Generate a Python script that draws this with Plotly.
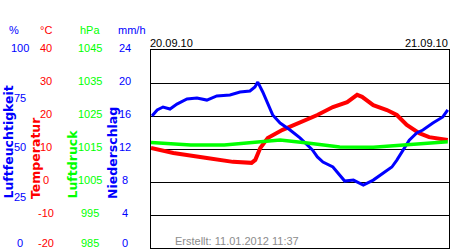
import plotly.graph_objects as go

# --- data (hours since 20.09.10 00:00) ---
hum_h = [0.08, 0.5, 0.97, 1.53, 2.09, 2.9, 3.7, 4.5, 5.3, 6.36, 7.17, 7.97, 8.37, 8.6,
         9.0, 9.4, 9.8, 10.4, 11.2, 12.0, 13.0, 13.4, 13.85, 14.65, 15.2, 15.6, 16.3,
         17.1, 17.9, 18.7, 19.4, 19.8, 20.3, 20.8, 21.4, 21.9, 22.7, 23.5, 23.9]
hum_v = [66.7, 69.7, 71.2, 70.2, 72.7, 75.3, 75.8, 74.7, 76.8, 77.3, 78.8, 79.3, 81.3, 83.8,
         78.8, 73.2, 67.2, 63.1, 59.6, 55.6, 49.5, 46.0, 43.4, 40.9, 36.9, 33.8, 34.3,
         31.8, 34.3, 37.9, 40.9, 44.4, 49.5, 54.5, 58.1, 59.6, 63.1, 66.2, 69.7]

temp_h = [0.0, 1.8, 4.5, 6.6, 8.1, 8.4, 8.8, 9.4, 10.6, 12.0, 13.4, 14.65, 15.8, 16.6,
          17.0, 17.9, 19.0, 19.8, 20.6, 21.6, 22.4, 23.9]
temp_v = [10.3, 8.8, 7.3, 6.1, 5.8, 6.7, 10.3, 13.3, 15.8, 17.9, 20.3, 22.7, 24.2, 26.4,
          25.8, 23.3, 21.8, 20.3, 17.3, 14.8, 13.6, 12.7]

pres_h = [0.0, 3.2, 5.9, 8.0, 10.4, 12.6, 15.2, 17.9, 20.6, 23.9]
pres_v = [1017.0, 1016.2, 1016.2, 1016.8, 1017.7, 1016.8, 1015.6, 1015.5, 1016.2, 1017.2]

hum_ticks = [0, 25, 50, 75, 100]
temp_ticks = [-20, -10, 0, 10, 20, 30, 40]
pres_ticks = [985, 995, 1005, 1015, 1025, 1035, 1045]
rain_ticks = [0, 4, 8, 12, 16, 20, 24]

headers = ["%", "°C", "hPa", "mm/h"]
titles = ["Luftfeuchtigkeit", "Temperatur", "Luftdruck", "Niederschlag"]
dates = ["20.09.10", "21.09.10"]
created = "Erstellt: 11.01.2012 11:37"

BLUE = "#0000ff"
RED = "#ff0000"
GREEN = "#00ff00"
W, H = 450, 250
TOP, BOT = 50, 248          # plot area pixel rows
FONT = "Liberation Sans, Arial, sans-serif"


def px_x(px):   # pixel column -> paper x (plot area spans 0..449)
    return px / 449.0


def px_y(py):   # pixel row -> paper y
    return (BOT - py) / float(BOT - TOP)


fig = go.Figure()
fig.add_trace(go.Scatter(x=pres_h, y=pres_v, yaxis="y3", mode="lines",
                         line=dict(color=GREEN, width=3.5), hoverinfo="skip"))
fig.add_trace(go.Scatter(x=temp_h, y=temp_v, yaxis="y", mode="lines",
                         line=dict(color=RED, width=4), hoverinfo="skip"))
fig.add_trace(go.Scatter(x=hum_h, y=hum_v, yaxis="y2", mode="lines",
                         line=dict(color=BLUE, width=3), hoverinfo="skip"))

x0 = 151 / 449.0
fig.update_layout(
    width=W, height=H,
    margin=dict(l=0, r=1, t=TOP, b=H - BOT),
    paper_bgcolor="white", plot_bgcolor="white",
    showlegend=False,
    font=dict(family=FONT, size=11),
    xaxis=dict(domain=[x0, 1], range=[0, 24], showgrid=False, zeroline=False,
               showticklabels=False, ticks="", showline=True, mirror=True,
               linecolor="black", linewidth=1),
    yaxis=dict(range=[-20, 40], tickvals=temp_ticks, showgrid=True, gridcolor="black",
               gridwidth=1, zeroline=False, showticklabels=False, ticks="",
               showline=True, mirror=True, linecolor="black", linewidth=1),
    yaxis2=dict(range=[0, 100], overlaying="y", visible=False),
    yaxis3=dict(range=[985, 1045], overlaying="y", visible=False),
    yaxis4=dict(range=[0, 24], overlaying="y", visible=False),
)

ann = []
# tick label columns
cols = [(hum_ticks, "y2", 20, BLUE),
        (temp_ticks, "y", 46, RED),
        (pres_ticks, "y3", 90, GREEN),
        (rain_ticks, "y4", 125, BLUE)]
for ticks, yref, xc, col in cols:
    for t in ticks:
        ann.append(dict(x=px_x(xc), xref="paper", y=t, yref=yref, text=str(t),
                        showarrow=False, xanchor="center", yanchor="middle",
                        yshift=5 if t == ticks[0] else 2,
                        font=dict(color=col, size=11, family=FONT)))
# headers
for txt, xc, col in zip(headers, [14, 46, 90, 132], [BLUE, RED, GREEN, BLUE]):
    ann.append(dict(x=px_x(xc), xref="paper", y=px_y(30), yref="paper", text=txt,
                    showarrow=False, xanchor="center", yanchor="middle",
                    font=dict(color=col, size=11, family=FONT)))
# rotated titles
for txt, xc, col in zip(titles, [8, 35, 72, 112], [BLUE, RED, GREEN, BLUE]):
    ann.append(dict(x=px_x(xc), xref="paper", y=px_y(201), yref="paper", text=txt,
                    showarrow=False, textangle=-90, xanchor="center", yanchor="bottom",
                    font=dict(color=col, size=12.5, family="DejaVu Sans", weight="bold")))
# dates
ann.append(dict(x=0, xref="x", y=px_y(43.5), yref="paper", text=dates[0],
                showarrow=False, xanchor="left", yanchor="middle", xshift=-3,
                font=dict(color="black", size=11, family=FONT)))
ann.append(dict(x=24, xref="x", y=px_y(43.5), yref="paper", text=dates[1],
                showarrow=False, xanchor="right", yanchor="middle", xshift=1,
                font=dict(color="black", size=11, family=FONT)))
# creation stamp
ann.append(dict(x=px_x(173), xref="paper", y=px_y(241), yref="paper", text=created,
                showarrow=False, xanchor="left", yanchor="middle",
                font=dict(color="#8c8c8c", size=11, family=FONT)))
fig.update_layout(annotations=ann)

fig.write_html("out.html")
